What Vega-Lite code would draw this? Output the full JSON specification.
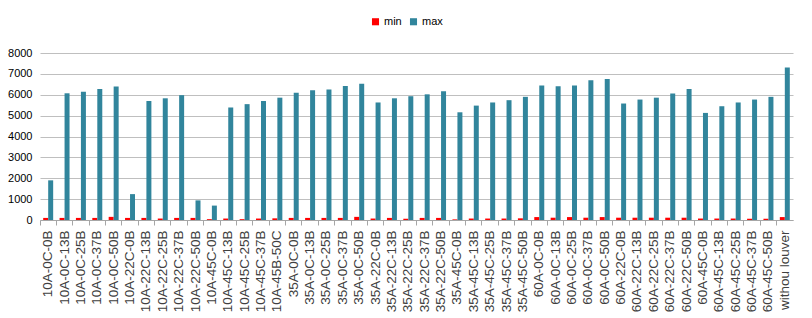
{
  "$schema": "https://vega.github.io/schema/vega-lite/v6.json",
  "width": 753,
  "height": 167,
  "autosize": {"type": "none"},
  "padding": {"left": 40, "top": 53, "right": 19, "bottom": 98},
  "background": "white",
  "config": {
    "view": {"stroke": null},
    "font": "Liberation Sans",
    "axis": {"labelFont": "Liberation Sans", "labelColor": "#404040"}
  },
  "data": {"values": [
    {"c":"10A-0C-0B","s":"min","v":100},{"c":"10A-0C-0B","s":"max","v":1900},
    {"c":"10A-0C-13B","s":"min","v":100},{"c":"10A-0C-13B","s":"max","v":6070},
    {"c":"10A-0C-25B","s":"min","v":100},{"c":"10A-0C-25B","s":"max","v":6140},
    {"c":"10A-0C-37B","s":"min","v":100},{"c":"10A-0C-37B","s":"max","v":6280},
    {"c":"10A-0C-50B","s":"min","v":150},{"c":"10A-0C-50B","s":"max","v":6390},
    {"c":"10A-22C-0B","s":"min","v":100},{"c":"10A-22C-0B","s":"max","v":1240},
    {"c":"10A-22C-13B","s":"min","v":100},{"c":"10A-22C-13B","s":"max","v":5700},
    {"c":"10A-22C-25B","s":"min","v":70},{"c":"10A-22C-25B","s":"max","v":5830},
    {"c":"10A-22C-37B","s":"min","v":100},{"c":"10A-22C-37B","s":"max","v":5980},
    {"c":"10A-22C-50B","s":"min","v":100},{"c":"10A-22C-50B","s":"max","v":940},
    {"c":"10A-45C-0B","s":"min","v":40},{"c":"10A-45C-0B","s":"max","v":690},
    {"c":"10A-45C-13B","s":"min","v":70},{"c":"10A-45C-13B","s":"max","v":5390},
    {"c":"10A-45C-25B","s":"min","v":40},{"c":"10A-45C-25B","s":"max","v":5550},
    {"c":"10A-45C-37B","s":"min","v":70},{"c":"10A-45C-37B","s":"max","v":5700},
    {"c":"10A-45B-50C","s":"min","v":80},{"c":"10A-45B-50C","s":"max","v":5860},
    {"c":"35A-0C-0B","s":"min","v":100},{"c":"35A-0C-0B","s":"max","v":6100},
    {"c":"35A-0C-13B","s":"min","v":100},{"c":"35A-0C-13B","s":"max","v":6220},
    {"c":"35A-0C-25B","s":"min","v":100},{"c":"35A-0C-25B","s":"max","v":6250},
    {"c":"35A-0C-37B","s":"min","v":100},{"c":"35A-0C-37B","s":"max","v":6420},
    {"c":"35A-0C-50B","s":"min","v":150},{"c":"35A-0C-50B","s":"max","v":6530},
    {"c":"35A-22C-0B","s":"min","v":70},{"c":"35A-22C-0B","s":"max","v":5630},
    {"c":"35A-22C-13B","s":"min","v":100},{"c":"35A-22C-13B","s":"max","v":5830},
    {"c":"35A-22C-25B","s":"min","v":60},{"c":"35A-22C-25B","s":"max","v":5930},
    {"c":"35A-22C-37B","s":"min","v":100},{"c":"35A-22C-37B","s":"max","v":6020},
    {"c":"35A-22C-50B","s":"min","v":100},{"c":"35A-22C-50B","s":"max","v":6170},
    {"c":"35A-45C-0B","s":"min","v":30},{"c":"35A-45C-0B","s":"max","v":5160},
    {"c":"35A-45C-13B","s":"min","v":70},{"c":"35A-45C-13B","s":"max","v":5480},
    {"c":"35A-45C-25B","s":"min","v":70},{"c":"35A-45C-25B","s":"max","v":5630},
    {"c":"35A-45C-37B","s":"min","v":70},{"c":"35A-45C-37B","s":"max","v":5740},
    {"c":"35A-45C-50B","s":"min","v":80},{"c":"35A-45C-50B","s":"max","v":5900},
    {"c":"60A-0C-0B","s":"min","v":140},{"c":"60A-0C-0B","s":"max","v":6440},
    {"c":"60A-0C-13B","s":"min","v":110},{"c":"60A-0C-13B","s":"max","v":6410},
    {"c":"60A-0C-25B","s":"min","v":140},{"c":"60A-0C-25B","s":"max","v":6440},
    {"c":"60A-0C-37B","s":"min","v":110},{"c":"60A-0C-37B","s":"max","v":6690},
    {"c":"60A-0C-50B","s":"min","v":140},{"c":"60A-0C-50B","s":"max","v":6760},
    {"c":"60A-22C-0B","s":"min","v":110},{"c":"60A-22C-0B","s":"max","v":5580},
    {"c":"60A-22C-13B","s":"min","v":110},{"c":"60A-22C-13B","s":"max","v":5770},
    {"c":"60A-22C-25B","s":"min","v":110},{"c":"60A-22C-25B","s":"max","v":5860},
    {"c":"60A-22C-37B","s":"min","v":110},{"c":"60A-22C-37B","s":"max","v":6060},
    {"c":"60A-22C-50B","s":"min","v":110},{"c":"60A-22C-50B","s":"max","v":6280},
    {"c":"60A-45C-0B","s":"min","v":70},{"c":"60A-45C-0B","s":"max","v":5130},
    {"c":"60A-45C-13B","s":"min","v":70},{"c":"60A-45C-13B","s":"max","v":5450},
    {"c":"60A-45C-25B","s":"min","v":70},{"c":"60A-45C-25B","s":"max","v":5630},
    {"c":"60A-45C-37B","s":"min","v":60},{"c":"60A-45C-37B","s":"max","v":5770},
    {"c":"60A-45C-50B","s":"min","v":60},{"c":"60A-45C-50B","s":"max","v":5900},
    {"c":"withou louver","s":"min","v":140},{"c":"withou louver","s":"max","v":7310}
  ]},
  "mark": {"type": "bar"},
  "encoding": {
    "x": {
      "field": "c", "type": "nominal", "sort": null,
      "scale": {"paddingInner": 0, "paddingOuter": 0},
      "axis": {
        "title": null, "labelAngle": -90, "labelFontSize": 13.5, "labelPadding": 5,
        "bandPosition": 0, "tickSize": 5, "tickColor": "#A6A6A6",
        "domainColor": "#A6A6A6", "labelLimit": 100
      }
    },
    "xOffset": {
      "field": "s", "type": "nominal",
      "scale": {"domain": ["min", "max"], "paddingOuter": 0.64, "paddingInner": 0}
    },
    "y": {
      "field": "v", "type": "quantitative",
      "scale": {"domain": [0, 8000], "nice": false},
      "axis": {
        "title": null, "values": [0,1000,2000,3000,4000,5000,6000,7000,8000],
        "format": "d",
        "labelFontSize": 11, "labelPadding": 8, "ticks": false, "domain": false,
        "gridColor": "#BFBFBF", "labelColor": "#000000"
      }
    },
    "color": {
      "field": "s", "type": "nominal",
      "scale": {"domain": ["min", "max"], "range": ["#FF0000", "#31859C"]},
      "legend": {
        "title": null, "orient": "none", "legendX": 330, "legendY": -37,
        "direction": "horizontal", "symbolType": "square", "symbolSize": 50,
        "labelFontSize": 11, "columnPadding": 6, "symbolStrokeWidth": 0, "labelOffset": 3
      }
    }
  }
}
